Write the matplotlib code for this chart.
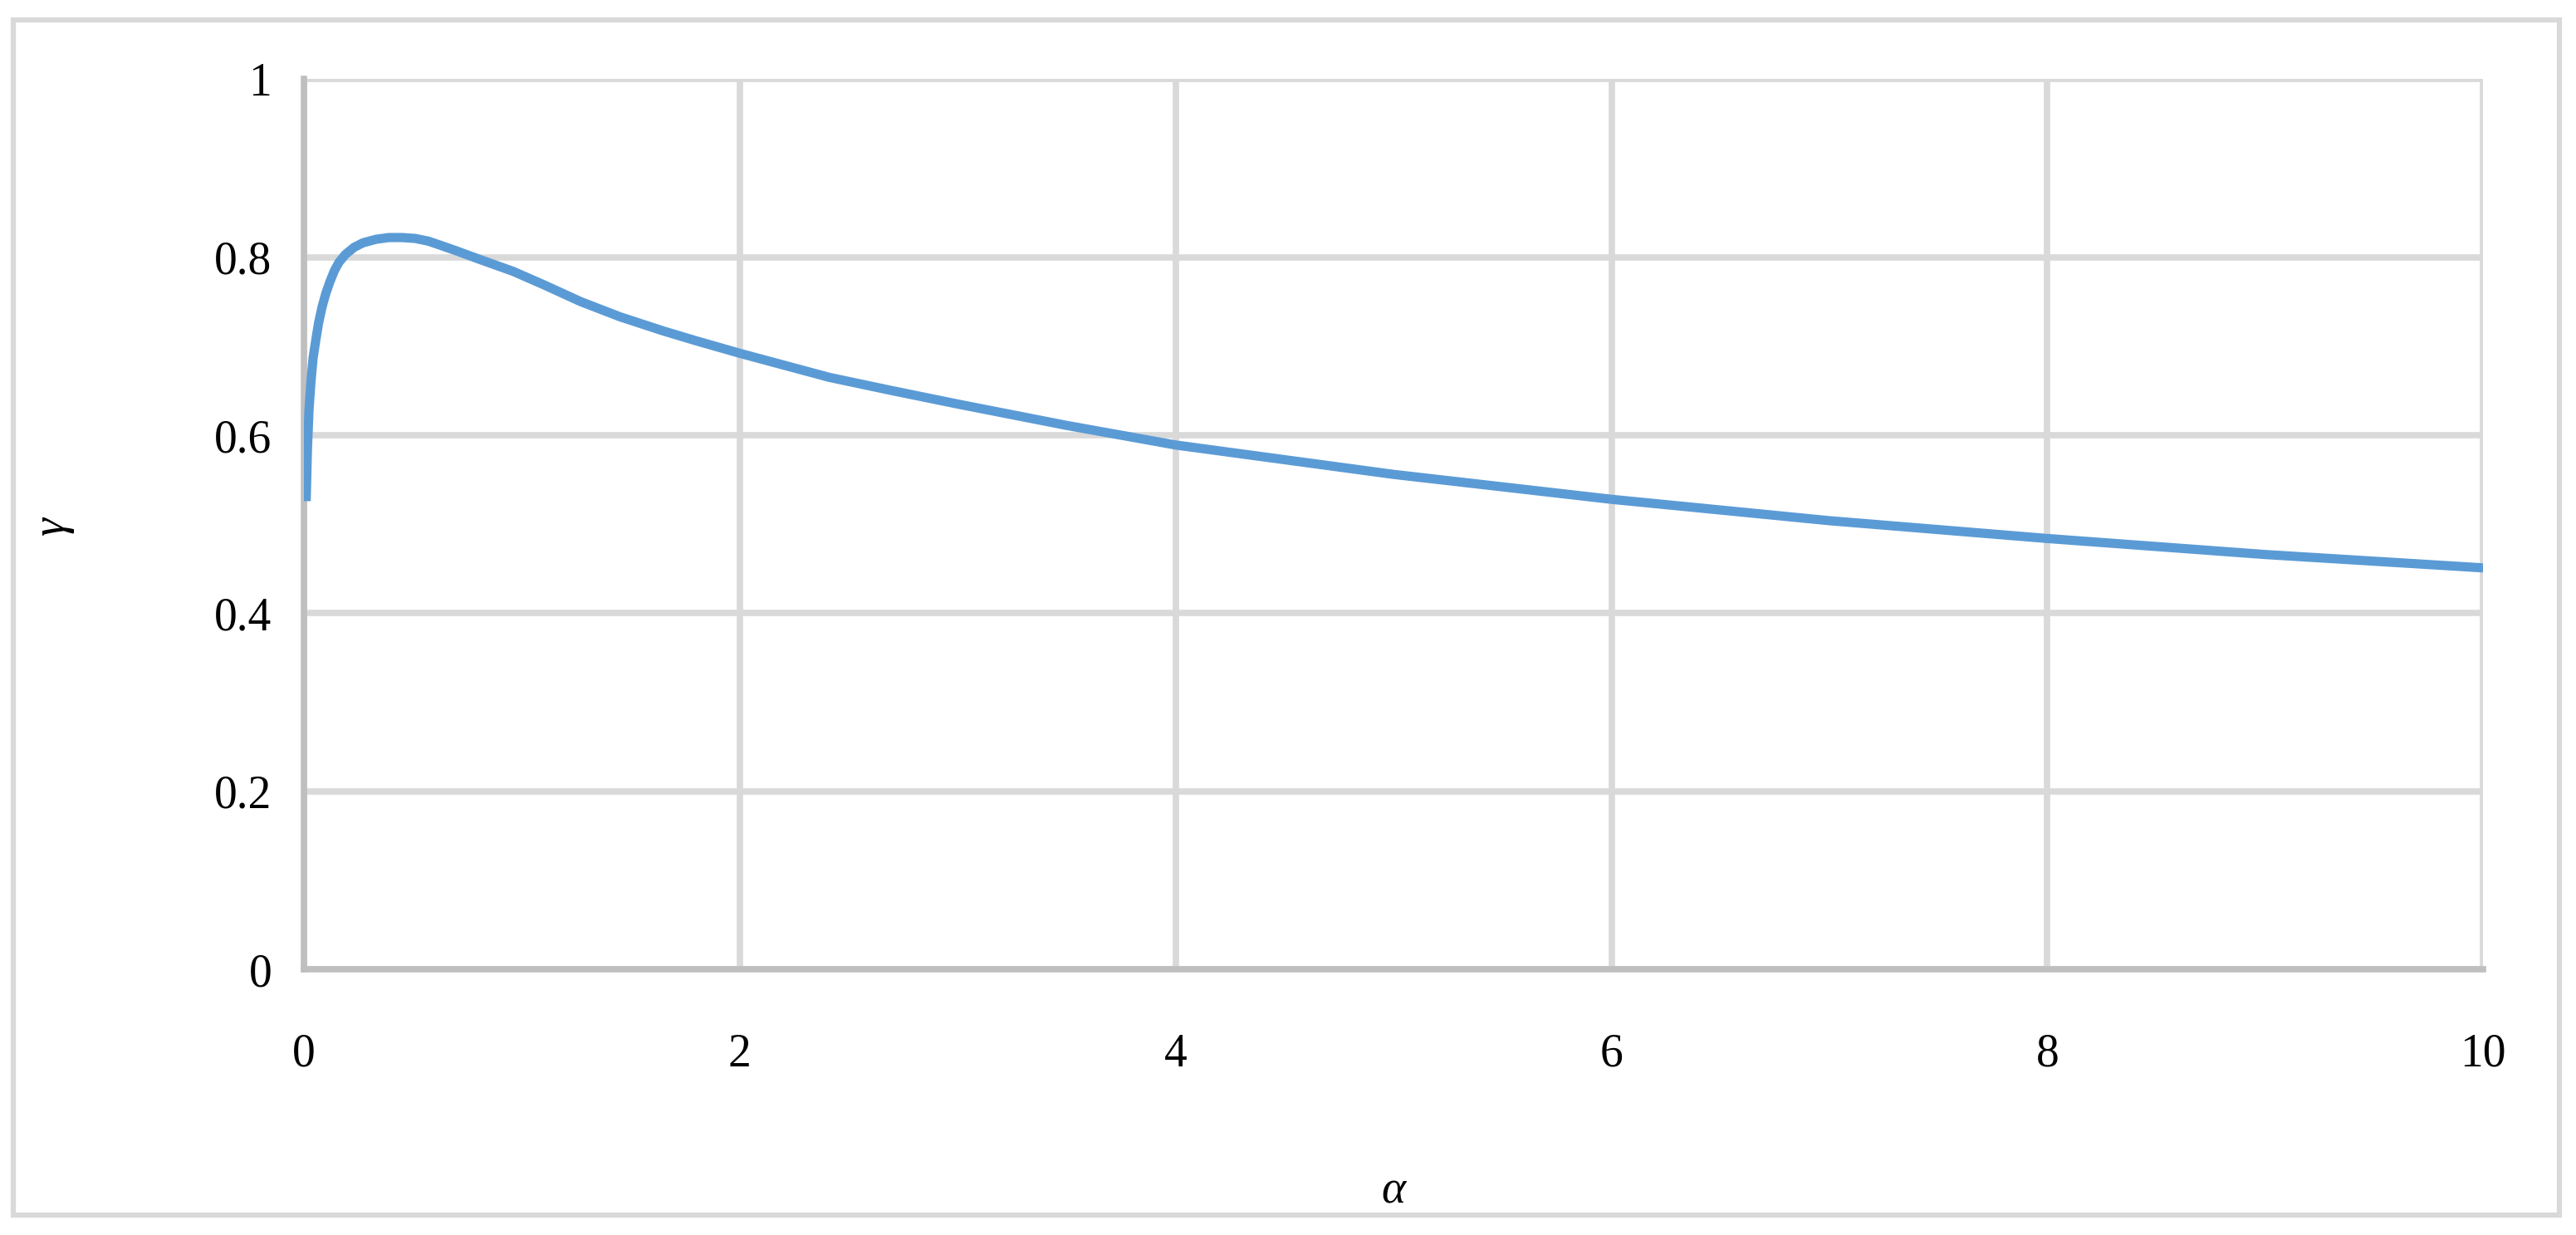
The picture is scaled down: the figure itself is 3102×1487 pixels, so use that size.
import matplotlib
matplotlib.use('Agg')
import matplotlib.pyplot as plt
from matplotlib.ticker import FuncFormatter
from matplotlib.patches import Rectangle

# values
alpha = [0.01, 0.016, 0.023, 0.032, 0.042, 0.055, 0.067, 0.083, 0.10, 0.12,
         0.14, 0.16, 0.19, 0.23, 0.27, 0.33, 0.39, 0.45, 0.51, 0.57, 0.63,
         0.70, 0.80, 0.96, 1.10, 1.27, 1.45, 1.65, 1.8, 2.0, 2.41, 2.7, 3.0,
         3.5, 4.0, 5.0, 6.0, 7.0, 8.0, 9.0, 10.0]
gamma = [0.526, 0.585, 0.628, 0.660, 0.687, 0.708, 0.726, 0.744, 0.759, 0.773,
         0.785, 0.794, 0.803, 0.811, 0.816, 0.820, 0.822, 0.822, 0.821, 0.818,
         0.813, 0.807, 0.798, 0.784, 0.769, 0.750, 0.733, 0.717, 0.706, 0.692,
         0.665, 0.650, 0.635, 0.611, 0.589, 0.556, 0.528, 0.504, 0.484, 0.466,
         0.451]

x_ticks = [0, 2, 4, 6, 8, 10]
y_ticks = [0, 0.2, 0.4, 0.6, 0.8, 1.0]

grid_col = '#d9d9d9'
axis_col = '#bfbfbf'
line_col = '#5b9bd5'
serif = ['Liberation Serif', 'DejaVu Serif']

fig = plt.figure(figsize=(31.02, 14.87), dpi=100)
ax = fig.add_axes([0.118, 0.215, 0.846, 0.721])

ax.plot(alpha, gamma, color=line_col, lw=8, solid_capstyle='butt',
        solid_joinstyle='round', zorder=3)

ax.set_xlim(0, 10)
ax.set_ylim(0, 1)
ax.set_xticks(x_ticks)
ax.set_yticks(y_ticks)
ax.yaxis.set_major_formatter(FuncFormatter(lambda v, p: '%g' % v))
ax.grid(True, color=grid_col, lw=5.5)
ax.set_axisbelow(True)

for s in ['top', 'right']:
    ax.spines[s].set_visible(False)
for s in ['left', 'bottom']:
    ax.spines[s].set_color(axis_col)
    ax.spines[s].set_linewidth(5.5)
    ax.spines[s].set_zorder(2.5)

ax.tick_params(length=0, labelsize=40)
ax.tick_params(axis='x', pad=55)
ax.tick_params(axis='y', pad=28)
for lab in ax.get_xticklabels() + ax.get_yticklabels():
    lab.set_fontfamily(serif)

ax.set_xlabel('α', fontsize=40, style='italic', family=serif)
ax.set_ylabel('γ', fontsize=40, style='italic', family=serif)
ax.xaxis.set_label_coords(0.5, -0.225)
ax.yaxis.set_label_coords(-0.1056, 0.498)

# outer chart border
fig.patches.append(Rectangle((0.005, 0.016), 0.9886, 0.968, transform=fig.transFigure,
                             fill=False, edgecolor=grid_col, lw=4.5))

fig.savefig('out.png', dpi=100, facecolor='white')
